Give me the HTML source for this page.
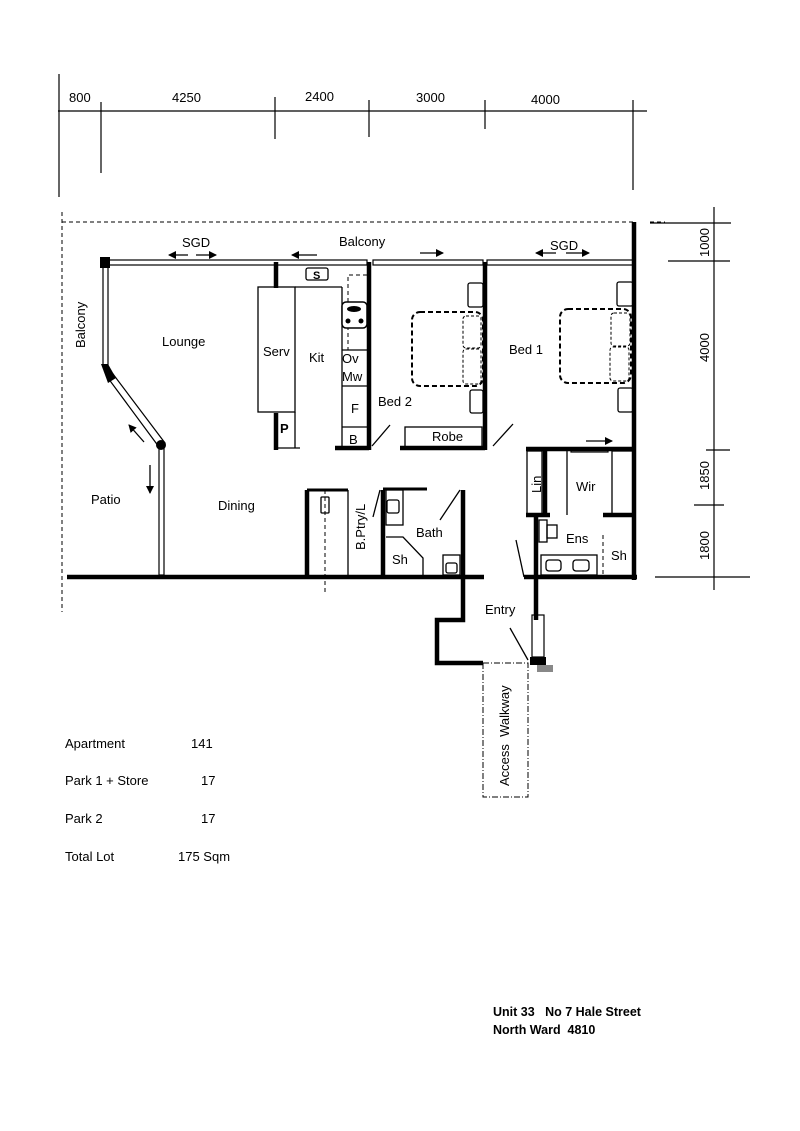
<!DOCTYPE html>
<html><head><meta charset="utf-8"><style>
html,body{margin:0;padding:0;background:#fff;}
svg{display:block;}
text{font-family:"Liberation Sans",sans-serif;font-size:13px;fill:#000;white-space:pre;}
.c{font-family:"Liberation Sans",sans-serif;font-size:13px;}
</style></head><body>
<svg width="800" height="1131" viewBox="0 0 800 1131" xmlns="http://www.w3.org/2000/svg" xml:space="preserve">
<defs><marker id="ah" markerWidth="8" markerHeight="8" refX="7" refY="4" orient="auto" markerUnits="userSpaceOnUse"><path d="M0,0 L8,4 L0,8 z" fill="#000"/></marker></defs>
<g stroke="#000" fill="none" stroke-width="1.2">
<line x1="58" y1="111" x2="647" y2="111"/>
<line x1="59" y1="74" x2="59" y2="197"/>
<line x1="101" y1="102" x2="101" y2="173"/>
<line x1="275" y1="97" x2="275" y2="139"/>
<line x1="369" y1="100" x2="369" y2="137"/>
<line x1="485" y1="100" x2="485" y2="129"/>
<line x1="633" y1="100" x2="633" y2="190"/>
<line x1="714" y1="207" x2="714" y2="590"/>
<line x1="650" y1="223" x2="731" y2="223"/>
<line x1="668" y1="261" x2="730" y2="261"/>
<line x1="706" y1="450" x2="730" y2="450"/>
<line x1="694" y1="505" x2="724" y2="505"/>
<line x1="655" y1="577" x2="750" y2="577"/>
</g>
<g>
<text x="69" y="102" class="c">800</text>
<text x="172" y="102" class="c">4250</text>
<text x="305" y="101" class="c">2400</text>
<text x="416" y="102" class="c">3000</text>
<text x="531" y="104" class="c">4000</text>
<text class="c" transform="translate(709,257) rotate(-90)">1000</text>
<text class="c" transform="translate(709,362) rotate(-90)">4000</text>
<text class="c" transform="translate(709,490) rotate(-90)">1850</text>
<text class="c" transform="translate(709,560) rotate(-90)">1800</text>
</g>
<g stroke="#000" fill="none" stroke-width="1" stroke-dasharray="4,3">
<line x1="62" y1="222" x2="633" y2="222"/>
<line x1="650" y1="222" x2="665" y2="222"/>
<line x1="62" y1="212" x2="62" y2="612"/>
<line x1="325" y1="490" x2="325" y2="592"/>
<polyline points="367,275 348,275 348,350"/>
<line x1="603" y1="535" x2="603" y2="575"/>
</g>
<g stroke="#000" fill="#fff" stroke-width="1.2">
<rect x="105" y="260" width="262" height="5"/>
<rect x="373" y="260" width="110" height="5"/>
<rect x="487" y="260" width="146" height="5"/>
<rect x="103" y="265" width="5" height="100"/>
<polygon points="108,378 113,374 165,443 159,447"/>
<rect x="159" y="447" width="5" height="128"/>
<rect x="571" y="448" width="37" height="4"/>
<rect x="532" y="615" width="12" height="42"/>
</g>
<g fill="#000">
<rect x="100" y="257" width="10" height="11"/>
<polygon points="101,364 108,364 116,378 108,383"/>
<circle cx="161" cy="445" r="5"/>
<rect x="530" y="657" width="16" height="8"/>
<rect x="537" y="665" width="16" height="7" fill="#888"/>
</g>
<g stroke="#000" fill="none" stroke-width="4.5">
<line x1="634" y1="222" x2="634" y2="580"/>
<line x1="67" y1="577" x2="484" y2="577"/>
<line x1="524" y1="577" x2="637" y2="577"/>
<line x1="276" y1="262" x2="276" y2="288"/>
<line x1="276" y1="413" x2="276" y2="450"/>
<line x1="369" y1="262" x2="369" y2="450"/>
<line x1="335" y1="448" x2="369" y2="448"/>
<line x1="485" y1="262" x2="485" y2="450"/>
<line x1="400" y1="448" x2="485" y2="448"/>
<line x1="526" y1="449" x2="636" y2="449"/>
<line x1="545" y1="449" x2="545" y2="515"/>
<line x1="536" y1="515" x2="536" y2="620"/>
<line x1="526" y1="515" x2="550" y2="515"/>
<line x1="603" y1="515" x2="634" y2="515"/>
<line x1="307" y1="490" x2="307" y2="577"/>
<line x1="383" y1="490" x2="383" y2="577"/>
<line x1="463" y1="490" x2="463" y2="577"/>
<polyline points="463,577 463,620 437,620 437,663 483,663"/>
</g>
<g stroke="#000" fill="none" stroke-width="3">
<line x1="307" y1="490" x2="348" y2="490"/>
<line x1="383" y1="489" x2="427" y2="489"/>
</g>
<g stroke="#000" fill="none" stroke-width="1.3">
<rect x="258" y="287" width="37" height="125"/>
<line x1="295" y1="412" x2="295" y2="448"/>
<line x1="295" y1="287" x2="342" y2="287"/>
<line x1="342" y1="287" x2="342" y2="448"/>
<line x1="342" y1="350" x2="368" y2="350"/>
<line x1="342" y1="386" x2="368" y2="386"/>
<line x1="342" y1="427" x2="368" y2="427"/>
<line x1="276" y1="448" x2="300" y2="448"/>
<rect x="306" y="268" width="22" height="12" rx="2"/>
<line x1="372" y1="446" x2="390" y2="425"/>
<rect x="405" y="427" width="77" height="21"/>
<line x1="493" y1="446" x2="513" y2="424"/>
<rect x="527" y="451" width="15" height="64"/>
<line x1="567" y1="451" x2="567" y2="515"/>
<rect x="612" y="451" width="21" height="64"/>
<rect x="539" y="520" width="8" height="22"/>
<rect x="547" y="525" width="10" height="13"/>
<rect x="541" y="555" width="56" height="20"/>
<rect x="546" y="560" width="15" height="11" rx="3"/>
<rect x="573" y="560" width="16" height="11" rx="3"/>
<line x1="516" y1="540" x2="524" y2="577"/>
<rect x="386" y="490" width="17" height="35"/>
<rect x="387" y="500" width="12" height="13" rx="2"/>
<polyline points="386,537 403,537 423,558 423,575"/>
<rect x="443" y="555" width="17" height="20"/>
<rect x="446" y="563" width="11" height="10" rx="2"/>
<line x1="440" y1="520" x2="460" y2="490"/>
<line x1="373" y1="517" x2="380" y2="490"/>
<line x1="348" y1="490" x2="348" y2="577"/>
<rect x="321" y="497" width="8" height="16" rx="1"/>
<line x1="510" y1="628" x2="528" y2="660"/>
<rect x="468" y="283" width="15" height="24" rx="2"/>
<rect x="470" y="390" width="13" height="23" rx="2"/>
<rect x="617" y="282" width="16" height="24" rx="2"/>
<rect x="618" y="388" width="15" height="24" rx="2"/>
</g>
<rect x="342" y="302" width="25" height="26" rx="4" stroke="#000" stroke-width="1.5" fill="#fff"/>
<ellipse cx="354" cy="309" rx="7" ry="3" fill="#000"/>
<circle cx="348" cy="321" r="2.5" fill="#000"/><circle cx="361" cy="321" r="2.5" fill="#000"/>
<g stroke="#000" fill="none" stroke-width="2" stroke-dasharray="5,3">
<rect x="412" y="312" width="71" height="74" rx="8"/>
<rect x="560" y="309" width="71" height="74" rx="8"/>
</g>
<g stroke="#000" fill="none" stroke-width="1" stroke-dasharray="3,2">
<rect x="463" y="316" width="18" height="32" rx="3"/>
<rect x="463" y="349" width="18" height="35" rx="3"/>
<rect x="611" y="313" width="19" height="33" rx="3"/>
<rect x="610" y="347" width="19" height="34" rx="3"/>
</g>
<g stroke="#000" fill="none" stroke-width="1" stroke-dasharray="6,2,1,2">
<rect x="483" y="663" width="45" height="134"/>
</g>
<g stroke="#000" stroke-width="1.3" marker-end="url(#ah)">
<line x1="188" y1="255" x2="169" y2="255"/>
<line x1="196" y1="255" x2="216" y2="255"/>
<line x1="317" y1="255" x2="292" y2="255"/>
<line x1="420" y1="253" x2="443" y2="253"/>
<line x1="556" y1="253" x2="536" y2="253"/>
<line x1="566" y1="253" x2="589" y2="253"/>
<line x1="144" y1="442" x2="129" y2="425"/>
<line x1="150" y1="465" x2="150" y2="493"/>
<line x1="586" y1="441" x2="612" y2="441"/>
</g>
<g>
<text x="182" y="247" class="c">SGD</text>
<text x="339" y="246" class="c">Balcony</text>
<text x="550" y="250" class="c">SGD</text>
<text class="c" transform="translate(85,348) rotate(-90)">Balcony</text>
<text x="162" y="346" class="c">Lounge</text>
<text x="263" y="356" class="c">Serv</text>
<text x="309" y="362" class="c">Kit</text>
<text x="342" y="363" class="c">Ov</text>
<text x="342" y="381" class="c">Mw</text>
<text x="351" y="413" class="c">F</text>
<text x="349" y="444" class="c">B</text>
<text x="280" y="433" class="c" style="font-weight:bold">P</text>
<text x="313" y="279" class="c" style="font-weight:bold;font-size:11px">S</text>
<text x="378" y="406" class="c">Bed 2</text>
<text x="432" y="441" class="c">Robe</text>
<text x="509" y="354" class="c">Bed 1</text>
<text x="91" y="504" class="c">Patio</text>
<text x="218" y="510" class="c">Dining</text>
<text class="c" transform="translate(365,550) rotate(-90)">B.Ptry/L</text>
<text x="416" y="537" class="c">Bath</text>
<text x="392" y="564" class="c">Sh</text>
<text class="c" transform="translate(541,493) rotate(-90)">Lin</text>
<text x="576" y="491" class="c">Wir</text>
<text x="566" y="543" class="c">Ens</text>
<text x="611" y="560" class="c">Sh</text>
<text x="485" y="614" class="c">Entry</text>
<text class="c" transform="translate(509,786) rotate(-90)">Access  Walkway</text>
</g>
<text x="65" y="748">Apartment</text><text x="191" y="748">141</text>
<text x="65" y="785">Park 1 + Store</text><text x="201" y="785">17</text>
<text x="65" y="823">Park 2</text><text x="201" y="823">17</text>
<text x="65" y="861">Total Lot</text><text x="178" y="861">175 Sqm</text>
<text x="493" y="1016" style="font-weight:bold;font-size:12.5px">Unit 33   No 7 Hale Street</text>
<text x="493" y="1034" style="font-weight:bold;font-size:12.5px">North Ward  4810</text>
</svg>
</body></html>
